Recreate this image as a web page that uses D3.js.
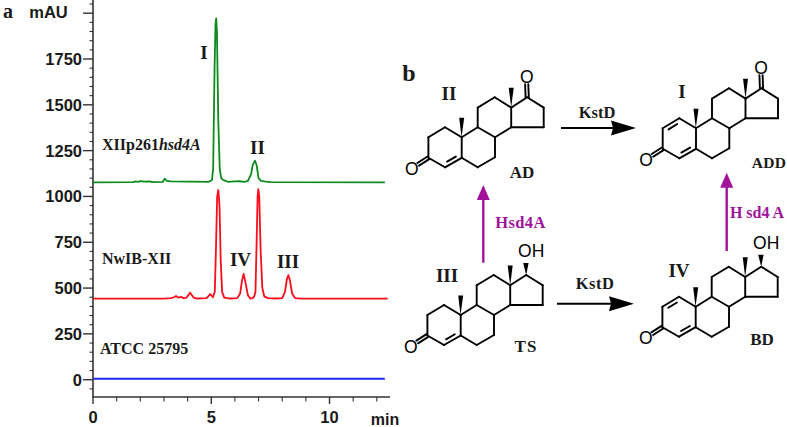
<!DOCTYPE html>
<html><head><meta charset="utf-8">
<script src="https://cdn.jsdelivr.net/npm/d3@7/dist/d3.min.js"></script>
<style>html,body{margin:0;padding:0;background:#fff}svg{display:block}</style>
</head><body><svg id="c" width="787" height="427"></svg>
<script>
const yTicks=[0,250,500,750,1000,1250,1500,1750,2000];
const yTickLabels=["0","250","500","750","1000","1250","1500","1750"];
const xTicks=[0,5,10];
const xMinor=[1,2,3,4,6,7,8,9,11,12];
const greenT=[0,1.7,1.8,1.9,2.0,2.2,2.4,2.5,2.95,3.03,3.12,3.3,4.9,5.03,5.08,5.14,5.18,5.21,5.24,5.3,5.36,5.42,5.5,5.7,6.0,6.2,6.4,6.55,6.68,6.76,6.85,6.92,7.0,7.1,7.3,7.5,12.34];
const greenV=[1077,1078,1082,1080,1084,1081,1082,1078,1079,1097,1085,1082,1080,1090,1150,1700,1940,1972,1900,1400,1150,1100,1090,1080,1082,1083,1080,1085,1120,1175,1195,1170,1100,1085,1081,1078,1077];
const redT=[0,3.0,3.3,3.42,3.51,3.6,3.72,3.82,3.95,4.11,4.25,4.4,4.8,4.96,5.07,5.15,5.2,5.25,5.3,5.35,5.4,5.46,5.55,5.8,6.1,6.22,6.3,6.37,6.45,6.55,6.65,6.75,6.82,6.87,6.92,6.96,6.99,7.03,7.09,7.16,7.24,7.4,7.7,8.0,8.12,8.2,8.26,8.33,8.42,8.55,8.8,12.46];
const redV=[442,442,445,450,457,448,452,445,447,475,448,443,445,467,450,480,720,1000,1035,950,650,480,448,443,445,470,540,577,530,460,443,445,455,480,760,1000,1040,1000,700,500,455,445,443,445,480,550,571,540,470,445,442,442];
const blueT=[0,12.34];
const blueV=[5,5];

const svg=d3.select("#c");
const x=d3.scaleLinear().domain([0,10]).range([93,329.5]);
const y=d3.scaleLinear().domain([0,1750]).range([379.7,59]);
const line=d3.line().x(d=>x(d[0])).y(d=>y(d[1]));
const axisColor="#333";
const sans='"Liberation Sans",Arial,sans-serif', serif='"Liberation Serif","Times New Roman",serif';

function txt(s,px,py,size,opt={}){
  return svg.append("text").attr("x",px).attr("y",py).attr("font-size",size)
    .attr("font-family",opt.fam||serif).attr("font-weight",opt.w||"bold")
    .attr("text-anchor",opt.a||"middle").attr("fill",opt.c||"#1a1a1a")
    .attr("letter-spacing",opt.ls||null).text(s);
}
// axes
const minorY=d3.range(-50,2051,50).filter(v=>v%250!==0);
const gy=svg.append("g").attr("transform","translate(93,0)");
gy.append("line").attr("y1",0).attr("y2",397).attr("stroke",axisColor).attr("stroke-width",1.6);
gy.selectAll(".mn").data(minorY).join("line").attr("x1",-3.5).attr("x2",0).attr("y1",y).attr("y2",y).attr("stroke",axisColor).attr("stroke-width",1.1);
gy.selectAll(".mj").data(yTicks).join("line").attr("x1",-10).attr("x2",0).attr("y1",y).attr("y2",y).attr("stroke",axisColor).attr("stroke-width",1.4);
yTickLabels.forEach(s=>txt(s,82,y(+s)+6,16.5,{fam:sans,a:"end"}));
const gx=svg.append("g").attr("transform","translate(0,397)");
gx.append("line").attr("x1",92).attr("x2",390).attr("stroke",axisColor).attr("stroke-width",1.6);
gx.selectAll(".mn").data(xMinor).join("line").attr("x1",x).attr("x2",x).attr("y1",0).attr("y2",4.5).attr("stroke",axisColor).attr("stroke-width",1.1);
gx.selectAll(".mj").data(xTicks).join("line").attr("x1",x).attr("x2",x).attr("y1",0).attr("y2",7).attr("stroke",axisColor).attr("stroke-width",1.4);
xTicks.forEach(t=>txt(String(t),x(t),423,16.5,{fam:sans}));
txt("min",385,424.5,16,{fam:sans});
txt("mAU",48.5,18,16.5,{fam:sans});

// traces
[[greenT,greenV,"#0d8a1e",1.8],[redT,redV,"#fb0d1b",1.8],[blueT,blueV,"#1f2cf0",2]].forEach(([t,v,c,w])=>{
  svg.append("path").attr("d",line(t.map((d,i)=>[d,v[i]]))).attr("fill","none").attr("stroke",c).attr("stroke-width",w).attr("stroke-linejoin","round");
});
// panel a labels
txt("a",8,18,20,{});
txt("I",204,59,19);txt("II",257.5,154,19);txt("IV",240.5,266,19);txt("III",288,268,19);
const lab=txt("",102,150,16,{a:"start"});lab.append("tspan").text("XIIp261");lab.append("tspan").attr("font-style","italic").text("hsd4A");
txt("NwIB-XII",102,264,16,{a:"start"});
txt("ATCC 25795",100,354,16,{a:"start"});

// panel b: steroid skeleton, atom positions relative to C10
const atoms={C1:[-16.7,-10],C2:[-33.3,0],C3:[-33.3,20.5],C4:[-16.7,30],C5:[0,20.5],C6:[16,30],C7:[33.3,20],C8:[33.3,0],C9:[16,-10],C10:[0,0],C11:[16,-29.7],C12:[33,-40],C13:[49.5,-29.7],C14:[49.5,-10],C15:[82,-10],C16:[82,-29.7],C17:[65.5,-40],O3:[-50,31],O17:[65,-61]};
const bonds=[["C1","C2"],["C2","C3"],["C3","C4"],["C4","C5"],["C5","C10"],["C10","C1"],["C5","C6"],["C6","C7"],["C7","C8"],["C8","C9"],["C9","C10"],["C9","C11"],["C11","C12"],["C12","C13"],["C13","C14"],["C14","C8"],["C14","C15"],["C15","C16"],["C16","C17"],["C17","C13"]];
const path=d3.line();
function mol(cx,cy,dbl,ketone){
  const g=svg.append("g").attr("transform",`translate(${cx},${cy})`);
  const st=(s)=>s.attr("fill","none").attr("stroke","#000").attr("stroke-width",1.9).attr("stroke-linecap","round");
  bonds.forEach(([a,b])=>st(g.append("path")).attr("d",path([atoms[a],atoms[b]])));
  dbl.forEach(([a,b])=>{
    const A=atoms[a],B=atoms[b];
    const f=0.16,dx=B[0]-A[0],dy=B[1]-A[1];
    const c=[-16.7,10];
    const off=(P)=>{const vx=c[0]-P[0],vy=c[1]-P[1],l=Math.hypot(vx,vy);return [P[0]+vx/l*4.2,P[1]+vy/l*4.2];};
    st(g.append("path")).attr("d",path([off([A[0]+dx*f,A[1]+dy*f]),off([B[0]-dx*f,B[1]-dy*f])]));
  });
  // C3=O
  const a=atoms.C3,o=atoms.O3;
  [-1.6,1.6].forEach(d=>st(g.append("path")).attr("d",path([[a[0]+d*0.52,a[1]+d*0.85],[o[0]+6.5+d*0.52,o[1]-4+d*0.85]])));
  txt0(g,"O",o[0],o[1]+6.5);
  // methyl wedges
  g.append("path").attr("d",path([[-0.2,0],[-2.5,-19.5],[2.5,-19.5]])+"Z").attr("fill","#000");
  g.append("path").attr("d",path([[49.5,-29.7],[47,-49.5],[52,-49.5]])+"Z").attr("fill","#000");
  const c17=atoms.C17;
  if(ketone){
    const p=atoms.O17;
    [-1.6,1.6].forEach(d=>st(g.append("path")).attr("d",path([[c17[0]+d,c17[1]],[p[0]+d,p[1]+8]])));
    txt0(g,"O",p[0],p[1]+6.5);
  }else{
    g.append("path").attr("d",path([[c17[0],c17[1]],[c17[0]-3,c17[1]-12],[c17[0]+2.4,c17[1]-12]])+"Z").attr("fill","#000");
    txt0(g,"OH",c17[0]+5,c17[1]-18);
  }
}
function txt0(g,s,px,py){
  g.append("text").attr("x",px).attr("y",py).attr("font-size",17.5).attr("font-family",sans).attr("text-anchor","middle").attr("fill","#000").text(s);
}
mol(461.7,137.3,[["C4","C5"]],true);
mol(696,128.3,[["C4","C5"],["C1","C2"]],true);
mol(460.7,315,[["C4","C5"]],false);
mol(695.7,306.7,[["C4","C5"],["C1","C2"]],false);

function arrow(x1,y1,x2,y2,c,w,hl,hw,barb){
  svg.append("line").attr("x1",x1).attr("y1",y1).attr("x2",x2-(x2>x1?hl*0.5:0)).attr("y2",y2+(y2<y1?hl*0.5:0)).attr("stroke",c).attr("stroke-width",w);
  const pts = x2>x1
    ? [[x2,y2],[x2-hl-barb,y2-hw],[x2-hl,y2],[x2-hl-barb,y2+hw]]
    : [[x2,y2],[x2-hw,y2+hl+barb],[x2,y2+hl],[x2+hw,y2+hl+barb]];
  svg.append("path").attr("d",path(pts)+"Z").attr("fill",c);
}
const purple="#a1119b";
arrow(483.3,262.7,483.3,185,purple,2.4,15,6.5,0);
arrow(726.7,251,726.7,172.7,purple,2.4,15,6.5,0);
arrow(561,128,636,128,"#000",2,23,7.5,2);
arrow(557,303.7,634,303.7,"#000",2,23,7.5,2);

txt("b",409,81,24);
txt("II",449,100,19);txt("AD",522,178,17);txt("KstD",597,118,16.5);
txt("I",682,98,19);txt("ADD",769,168,15.5,{ls:0.3});
txt("III",447,282,19);txt("TS",526,352,17,{ls:1});txt("KstD",595,289,16.5,{ls:0.5});
txt("IV",679,277,19);txt("BD",762,345,17);
txt("Hsd4A",520.5,228,16.5,{c:purple,ls:0.4});
txt("H sd4 A",757,218,16,{c:purple});
</script></body></html>
